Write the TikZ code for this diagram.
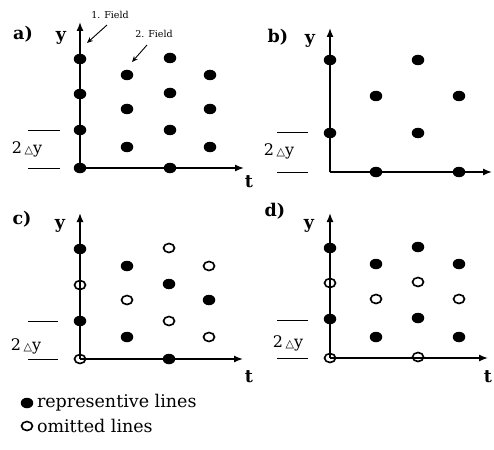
\documentclass[tikz,border=0pt]{standalone}
\usepackage{fontspec}
\setmainfont{DejaVu Serif}
\newfontfamily\symfont{DejaVu Sans}
\usepackage{tikz}
\usetikzlibrary{arrows.meta,shapes.geometric}

\begin{document}
\begin{tikzpicture}[x=1pt, y=-1pt,
        every node/.style ={inner sep=0pt, outer sep=0pt},
        Axis/.style  ={draw, line width=1.4pt, -{Latex[length=9pt,width=7pt]}},
        Pointer/.style ={draw, line width=0.9pt, -{Stealth[length=6pt,width=5pt]}},
        Rep/.style   ={ellipse, fill=black, minimum width=12.5pt, minimum height=10.5pt},
        Omit/.style  ={ellipse, draw=black, line width=1.6pt, minimum width=11pt, minimum height=9pt},
        Panel/.style ={font=\fontsize{17.5}{18}\selectfont\bfseries},
        Field/.style ={font=\fontsize{9.5}{10}\selectfont},
        Span/.style  ={font=\fontsize{16}{16}\selectfont},
        Legend/.style={font=\fontsize{17.5}{18}\selectfont, anchor=west},
        Tick/.style  ={draw, line width=0.8pt},
    ]
\useasboundingbox (0,0) rectangle (494,449);

% a)
\coordinate (a0) at (80,168);
\coordinate (ay) at (80,22);
\coordinate (ax) at (244,168);
\draw[Axis] (a0) -- (ay);
\draw[Axis] (a0) -- (ax);
\node[Panel] (alab) at (23,34) {a)};
\node[Panel] (aylab) at (61,38) {y};
\node[Panel] (atlab) at (249,182) {t};
\foreach \px/\py [count=\i] in {80/59,80/94,80/130,80/168,127/75,127/109,127/147,
                                170/58,170/93,170/130,170/168,210/75,210/109,210/147}
    \node[Rep] (ar\i) at (\px,\py) {};
\node[Field] (field1) at (110,15) {1. Field};
\node[Field] (field2) at (154,34) {2. Field};
\coordinate (f1from) at (107,25);
\coordinate (f1to) at (87,43);
\coordinate (f2from) at (147,45);
\coordinate (f2to) at (132,62);
\draw[Pointer] (f1from) -- (f1to);
\draw[Pointer] (f2from) -- (f2to);
\draw[Tick] (28,130) -- (60,130);
\draw[Tick] (28,168) -- (60,168);
\node[Span] (aspan) at (27,149) {2\,{\symfont\fontsize{11}{11}\selectfont △}y};

% b)
\coordinate (b0) at (330,172);
\coordinate (by) at (330,28);
\coordinate (bx) at (492,172);
\draw[Axis] (b0) -- (by);
\draw[Axis] (b0) -- (bx);
\node[Panel] (blab) at (278,37) {b)};
\node[Panel] (bylab) at (310,41) {y};
\foreach \px/\py [count=\i] in {330/60,330/133,376/96,376/172,418/60,418/133,459/96,459/172}
    \node[Rep] (br\i) at (\px,\py) {};
\draw[Tick] (277,132) -- (308,132);
\draw[Tick] (277,172) -- (308,172);
\node[Span] (bspan) at (279,151) {2\,{\symfont\fontsize{11}{11}\selectfont △}y};

% c)
\coordinate (c0) at (80,359);
\coordinate (cy) at (80,213);
\coordinate (cx) at (243,359);
\draw[Axis] (c0) -- (cy);
\draw[Axis] (c0) -- (cx);
\node[Panel] (clab) at (22,219) {c)};
\node[Panel] (cylab) at (60,226) {y};
\node[Panel] (ctlab) at (249,377) {t};
\foreach \px/\py [count=\i] in {80/249,80/321,127/266,127/337,169/284,169/359,209/300}
    \node[Rep] (cr\i) at (\px,\py) {};
\foreach \px/\py [count=\i] in {80/285,80/359,127/300,169/248,169/321,209/266,209/337}
    \node[Omit] (co\i) at (\px,\py) {};
\draw[Tick] (28,321) -- (58,321);
\draw[Tick] (28,359) -- (58,359);
\node[Span] (cspan) at (26,346) {2\,{\symfont\fontsize{11}{11}\selectfont △}y};

% d)
\coordinate (d0) at (330,358);
\coordinate (dy) at (330,213);
\coordinate (dx) at (488,358);
\draw[Axis] (d0) -- (dy);
\draw[Axis] (d0) -- (dx);
\node[Panel] (dlab) at (275,211) {d)};
\node[Panel] (dylab) at (309,226) {y};
\node[Panel] (dtlab) at (488,377) {t};
\foreach \px/\py [count=\i] in {330/248,330/319,376/264,376/337,418/247,418/318,459/264,459/337}
    \node[Rep] (dr\i) at (\px,\py) {};
\foreach \px/\py [count=\i] in {330/283,330/358,376/299,418/282,418/357,459/299}
    \node[Omit] (do\i) at (\px,\py) {};
\draw[Tick] (277,320) -- (308,320);
\draw[Tick] (277,358) -- (308,358);
\node[Span] (dspan) at (288,343) {2\,{\symfont\fontsize{11}{11}\selectfont △}y};

% legend
\node[Rep] (keyrep) at (27,403) {};
\node[Omit] (keyomit) at (27,426) {};
\node[Legend] (reptext) at (37,403) {representive lines};
\node[Legend] (omittext) at (37,426) {omitted lines};

\end{tikzpicture}
\end{document}
